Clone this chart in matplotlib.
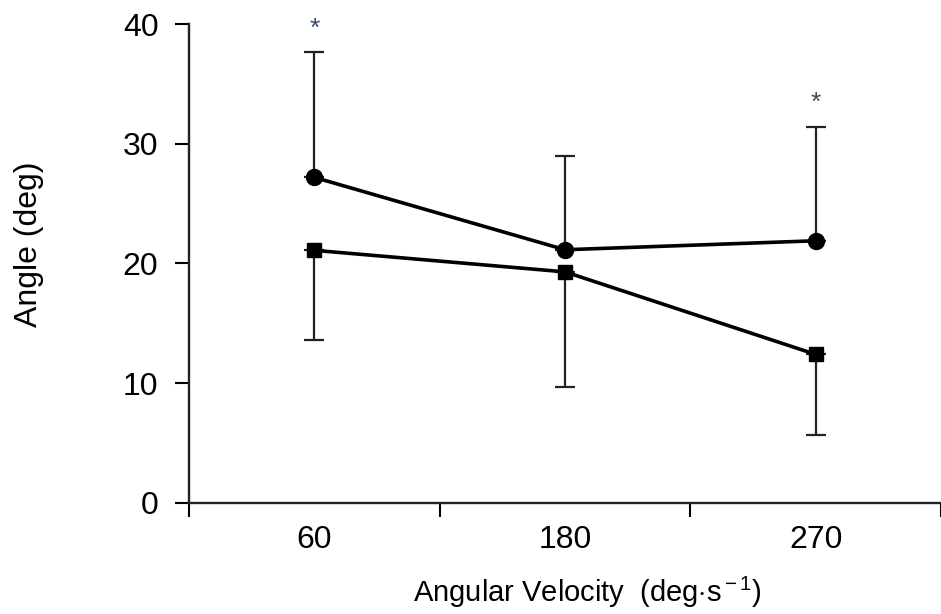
import matplotlib
matplotlib.use("Agg")
import matplotlib.pyplot as plt
import numpy as np

plt.rcParams['font.family'] = ['Liberation Sans', 'DejaVu Sans']
plt.rcParams['mathtext.fontset'] = 'custom'
plt.rcParams['mathtext.rm'] = 'Liberation Sans'
plt.rcParams['mathtext.it'] = 'Liberation Sans'

categories = ["60", "180", "270"]
circle_mean = [27.2, 21.15, 21.9]
circle_upper = [37.7, 29.0, 31.4]
square_mean = [21.1, 19.3, 12.4]
square_lower = [13.6, 9.7, 5.7]
star_y = [40.0, 33.8]
star_idx = [0, 2]
yticks = [0, 10, 20, 30, 40]

fig = plt.figure(figsize=(9.41, 6.14), dpi=100)
ax = fig.add_axes([0.2009, 0.1813, 0.7991, 0.7791])

x = np.arange(len(categories))
c_err = np.array(circle_upper) - np.array(circle_mean)
s_err = np.array(square_mean) - np.array(square_lower)

ax.errorbar(x, circle_mean, yerr=[np.zeros_like(c_err), c_err], fmt='none',
            ecolor='#222222', elinewidth=1.6, capsize=7, capthick=1.6, zorder=2)
ax.errorbar(x, square_mean, yerr=[s_err, np.zeros_like(s_err)], fmt='none',
            ecolor='#222222', elinewidth=1.6, capsize=7, capthick=1.6, zorder=2)
ax.plot(x, circle_mean, color='black', lw=2.6, marker='o', markersize=11.5, zorder=3)
ax.plot(x, square_mean, color='black', lw=2.6, marker='s', markersize=10.5, zorder=3)

for i, yv in zip(star_idx, star_y):
    ax.text(x[i], yv - 0.4, '*', ha='center', va='center', fontsize=19, color='#3a4a6a')

ax.set_xlim(-0.5, 2.5)
ax.set_ylim(0, 40)
ax.set_yticks(yticks)
ax.set_xticks(x)
ax.set_xticklabels(categories)
ax.set_xticks(np.arange(-0.5, 3.0, 1.0), minor=True)
ax.tick_params(axis='x', which='major', length=0, pad=16, labelsize=23)
ax.tick_params(axis='x', which='minor', length=10, width=1.5, direction='out')
ax.tick_params(axis='y', length=10, width=1.5, direction='out', pad=12, labelsize=23)

for s in ['top', 'right']:
    ax.spines[s].set_visible(False)
for s in ['left', 'bottom']:
    ax.spines[s].set_linewidth(1.7)
    ax.spines[s].set_color('#222222')

ax.set_ylabel('Angle (deg)', fontsize=23)
ax.set_xlabel(r'Angular Velocity  (deg$\cdot$s$^{\rm -1}$)', fontsize=21)
ax.yaxis.set_label_coords(-0.193, 0.54)
ax.xaxis.set_label_coords(0.53, -0.15)

fig.savefig('out.png', dpi=100)
